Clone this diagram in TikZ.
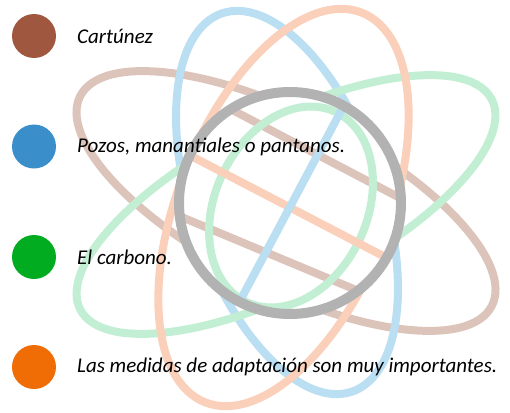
\documentclass[tikz,border=0pt]{standalone}
\usepackage{fontspec}
\setmainfont{Carlito}
\usetikzlibrary{calc}
\definecolor{cbrown}{RGB}{160,87,63}
\definecolor{cblue}{RGB}{58,143,203}
\definecolor{cgreen}{RGB}{2,172,32}
\definecolor{corange}{RGB}{240,108,4}
\definecolor{pbrown}{RGB}{220,196,186}
\definecolor{pblue}{RGB}{186,222,242}
\definecolor{pgreen}{RGB}{194,239,211}
\definecolor{porange}{RGB}{251,208,186}
\definecolor{pgray}{RGB}{178,178,178}
\tikzset{
  orbit/.style={line width=8pt},
  dot/.style={circle, minimum size=44pt, inner sep=0pt},
  lab/.style={anchor=west, font=\itshape\fontsize{21}{24}\selectfont, text=black, inner sep=0pt}
}
\begin{document}
\begin{tikzpicture}[x=1pt,y=1pt]
\useasboundingbox (0,0) rectangle (510,-412);
\coordinate (c) at (290,-203);
% outer orbits
\draw[orbit, pbrown, rotate around={-27:(286,-201)}] (286,-201) ellipse [x radius=231, y radius=86];
\draw[orbit, pblue, rotate around={-71:(287,-202.5)}] (287,-202.5) ellipse [x radius=200, y radius=95];
\draw[orbit, pgreen, rotate around={27:(286,-204.5)}] (286,-204.5) ellipse [x radius=231, y radius=85];
\draw[orbit, porange, rotate around={68:(283.5,-207.5)}] (283.5,-207.5) ellipse [x radius=210, y radius=105];
% clear the nucleus
\fill[white] (c) circle [radius=107];
% inner parts of the orbits
\begin{scope}
\clip (c) circle [radius=110];
\draw[orbit, pbrown] (180,-82.5) -- (420,-208.5);
\draw[orbit, pbrown] (160,-208) -- (380,-300);
\draw[orbit, pgreen, rotate around={65:(291,-207)}] (291,-207) ellipse [x radius=105, y radius=76];
\draw[orbit, porange] ($(290,-207.5)+(152.5:130)$) -- ($(290,-207.5)+(-27.5:130)$);
\draw[orbit, pblue] ($(291,-205)+(62:130)$) -- ($(291,-205)+(242:130)$);
\end{scope}
\draw[line width=10pt, pgray] (c) circle [radius=111];
\node[dot, fill=cbrown] (d1) at (34,-36) {};
\node[dot, fill=cblue] (d2) at (34,-146.5) {};
\node[dot, fill=cgreen] (d3) at (34,-257) {};
\node[dot, fill=corange] (d4) at (34,-367) {};
\node[lab] (t1) at (77,-36) {Cartúnez};
\node[lab] (t2) at (77,-146.5) {Pozos, manantiales o pantanos.};
\node[lab] (t3) at (77,-257) {El carbono.};
\node[lab] (t4) at (77,-367) {Las medidas de adaptación son muy importantes.};
\end{tikzpicture}
\end{document}
